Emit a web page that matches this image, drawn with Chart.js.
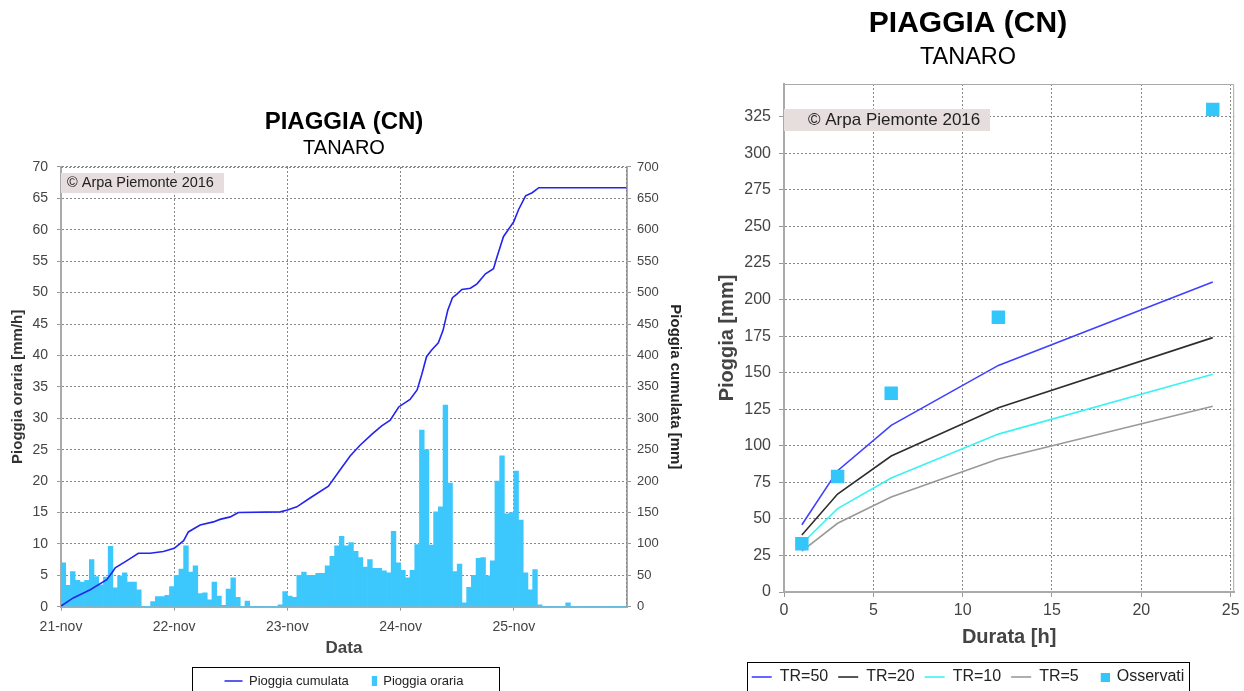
<!DOCTYPE html>
<html>
<head>
<meta charset="utf-8">
<script src="https://cdn.jsdelivr.net/npm/chart.js@4.4.1/dist/chart.umd.min.js"></script>
<style>
  body { margin: 0; background: #fff; width: 1244px; height: 691px; overflow: hidden; position: relative; }
  #left { position: absolute; left: 0; top: 0; }
  #right { position: absolute; left: 700px; top: 0; }
</style>
</head>
<body>
<canvas id="left" width="688" height="691"></canvas>
<canvas id="right" width="544" height="691"></canvas>
<script>
// left chart: hourly rain (mm/h) from 21-nov 00:00, one value per hour
const dayTicks = [0, 24, 48, 72, 96];
const dayLabels = ['21-nov', '22-nov', '23-nov', '24-nov', '25-nov'];
const hourlyRain = [
  7.0, 3.4, 5.6, 4.2, 3.9, 4.2, 7.5, 4.8, 3.5, 4.7, 9.6, 3.0, 4.9, 5.4, 3.9, 3.9, 2.7, 0, 0, 0.8, 1.6, 1.6, 1.8, 3.2,
  5.0, 6.0, 9.7, 5.5, 6.5, 2.1, 2.2, 1.1, 3.9, 1.7, 0.2, 2.8, 4.6, 1.5, 0, 0.9, 0, 0, 0, 0, 0, 0, 0.3, 2.4,
  1.7, 1.5, 5.0, 5.5, 5.0, 5.0, 5.3, 5.3, 6.5, 8.0, 9.7, 11.2, 9.7, 10.2, 8.8, 7.8, 6.3, 7.5, 6.1, 6.1, 5.7, 5.4, 12.0, 7.0,
  5.8, 4.6, 5.8, 9.9, 28.1, 25.0, 9.8, 15.1, 15.9, 32.1, 19.7, 5.6, 6.8, 0.6, 3.1, 5.0, 7.7, 7.8, 4.9, 7.3, 20.0, 24.0, 14.8, 15.0,
  21.6, 13.8, 5.4, 2.7, 5.9, 0.3, 0, 0, 0, 0, 0, 0.6, 0, 0, 0, 0, 0, 0, 0, 0, 0, 0, 0, 0
];
// cumulated rain (mm), hours since 21-nov 00:00
const cumHours = [0, 2.6, 6.2, 9.7, 10.8, 11.5, 13.9, 16.4, 18.9, 21.7, 24, 26, 27, 29.5, 32.3, 33.7, 35.9, 37.6,
  46.5, 48, 50, 52.8, 56.7, 59, 61.3, 63.4, 66, 68, 69.8, 71.6, 74, 75.5, 76.5, 77.5, 78.5, 80, 81, 82, 83, 84, 85,
  86.8, 88.2, 90, 91.7, 92.4, 93.8, 96, 97, 98.5, 99.9, 101.3, 120];
const cumRain = [1, 14, 27, 43, 54, 62, 73, 85, 85, 88, 93, 105, 119, 130, 135, 139, 143, 150,
  151, 154, 159, 173, 192, 216, 240, 257, 275, 288, 297, 318, 330, 345, 370, 398, 408, 420, 440, 472, 492, 498, 505,
  507, 514, 530, 538, 556, 589, 613, 632, 654, 659, 667, 667];

// right chart: rain (mm) vs duration (h)
const durations = [1, 3, 6, 12, 24];
const tr50 = [46, 83, 114, 155, 212];
const tr20 = [39, 67, 93, 126, 174];
const tr10 = [33, 57, 78, 108, 149];
const tr5 = [28, 47, 65, 91, 127];
const observed = [33, 79, 136, 188, 330];

const family = "'Liberation Sans', Arial, sans-serif";
Chart.defaults.font.family = family;
Chart.defaults.color = '#444';
Chart.defaults.animation = false;

function iconCanvas(w, h, x0, color) {
  const c = document.createElement('canvas');
  c.width = w; c.height = h;
  const g = c.getContext('2d');
  g.fillStyle = color;
  g.fillRect(x0, 0, w - x0, h);
  return c;
}
const barColor = '#3cc8fc';
const barIcon = iconCanvas(18, 10, 13, barColor);
const squareIcon = iconCanvas(22, 9, 13, '#33c6fb');

// copyright box, plot frame and legend frame
const extras = {
  id: 'extras',
  beforeDatasetsDraw(chart, args, o) {
    const { ctx, chartArea: a } = chart;
    ctx.save();
    ctx.fillStyle = '#e6dddd';
    ctx.fillRect(a.left, o.noteTop, o.noteWidth, o.noteHeight);
    ctx.fillStyle = '#222';
    ctx.font = o.noteSize + 'px ' + family;
    ctx.textBaseline = 'middle';
    ctx.fillText('\u00A9 Arpa Piemonte 2016', a.left + o.noteIndent, o.noteTop + o.noteHeight / 2);
    ctx.restore();
  },
  afterDraw(chart, args, o) {
    const { ctx, chartArea: a, legend } = chart;
    ctx.save();
    ctx.strokeStyle = o.frameColor;
    ctx.lineWidth = 1;
    ctx.setLineDash(o.frameDash);
    ctx.beginPath();
    ctx.moveTo(a.left, a.top + 0.5);
    ctx.lineTo(a.right - 0.5, a.top + 0.5);
    ctx.lineTo(a.right - 0.5, a.bottom);
    ctx.stroke();
    const boxes = legend.legendHitBoxes;
    if (boxes && boxes.length) {
      const first = boxes[0], last = boxes[boxes.length - 1];
      const x0 = Math.round(first.left - o.legendPadLeft);
      const x1 = Math.round(last.left + last.width + o.legendPadRight);
      ctx.setLineDash([]);
      ctx.strokeStyle = '#000';
      ctx.strokeRect(x0 + 0.5, o.legendTop + 0.5, x1 - x0, chart.height - o.legendTop + 4);
    }
    ctx.restore();
  }
};

new Chart(document.getElementById('left'), {
  type: 'bar',
  data: {
    datasets: [
      {
        type: 'line',
        label: 'Pioggia cumulata',
        data: cumHours.map((h, i) => ({ x: h, y: cumRain[i] })),
        yAxisID: 'y1',
        borderColor: '#2424ee',
        borderWidth: 1.6,
        pointRadius: 0,
        pointStyle: 'line',
        pointBorderColor: '#2424ee',
        pointBorderWidth: 1.5,
        tension: 0,
        order: 0
      },
      {
        type: 'bar',
        label: 'Pioggia oraria',
        data: hourlyRain.map((v, i) => ({ x: i + 0.5, y: v })),
        yAxisID: 'y',
        backgroundColor: barColor,
        barPercentage: 1,
        categoryPercentage: 1,
        order: 1
      }
    ]
  },
  options: {
    responsive: false,
    devicePixelRatio: 1,
    layout: { padding: 0 },
    scales: {
      x: {
        type: 'linear',
        min: 0,
        max: 120,
        offset: false,
        afterBuildTicks: axis => { axis.ticks = dayTicks.map(v => ({ value: v })); },
        ticks: {
          callback: (v, i) => dayLabels[i],
          font: { size: 14 }, color: '#444', padding: 8, maxRotation: 0, autoSkip: false
        },
        grid: { color: '#888', tickLength: 4, tickColor: '#999', offset: false },
        border: { color: '#aaa', width: 2, dash: [2, 2] },
        title: { display: true, text: 'Data', font: { size: 17, weight: 'bold' }, color: '#444', padding: { top: 0, bottom: 6.3 } },
        afterFit: s => { s.height = 57.8; }
      },
      y: {
        position: 'left',
        min: 0,
        max: 70,
        ticks: { stepSize: 5, font: { size: 14 }, color: '#444', padding: 9 },
        grid: { color: '#888', tickLength: 4, tickColor: '#999' },
        border: { color: '#aaa', width: 2, dash: [2, 2] },
        title: { display: true, text: 'Pioggia oraria [mm/h]', font: { size: 15, weight: 'bold' }, color: '#333', padding: { top: 9.3, bottom: 0 } },
        afterFit: s => { s.width = 61; }
      },
      y1: {
        position: 'right',
        min: 0,
        max: 700,
        ticks: { stepSize: 50, font: { size: 13 }, color: '#444', padding: 6 },
        grid: { drawOnChartArea: false, tickLength: 4, tickColor: '#999' },
        border: { color: '#aaa', width: 2 },
        title: { display: true, text: 'Pioggia cumulata [mm]', font: { size: 15, weight: 'bold' }, color: '#222', padding: { top: 3.5, bottom: 0 } },
        afterFit: s => { s.width = 61; }
      }
    },
    plugins: {
      title: { display: true, text: 'PIAGGIA (CN)', color: '#000', font: { size: 24, weight: 'bold' }, padding: { top: 107.6, bottom: 0 } },
      subtitle: { display: true, text: 'TANARO', color: '#000', font: { size: 20 }, padding: { top: 0.3, bottom: 6.3 } },
      legend: {
        position: 'bottom',
        maxHeight: 26.5,
        labels: {
          usePointStyle: true,
          pointStyleWidth: 18,
          boxHeight: 13,
          padding: 10,
          color: '#222',
          font: { size: 13 },
          generateLabels: chart => {
            const items = Chart.defaults.plugins.legend.labels.generateLabels(chart);
            items.forEach(it => { if (it.text === 'Pioggia oraria') it.pointStyle = barIcon; });
            return items;
          }
        }
      },
      tooltip: { enabled: false },
      extras: {
        noteTop: 173, noteHeight: 20, noteWidth: 163, noteIndent: 6, noteSize: 14.5,
        frameColor: '#888', frameDash: [2, 2],
        legendTop: 667, legendPadLeft: 33, legendPadRight: 36
      }
    }
  },
  plugins: [extras]
});

const lineSet = (label, values, color) => ({
  label,
  data: durations.map((d, i) => ({ x: d, y: values[i] })),
  borderColor: color,
  borderWidth: 1.6,
  pointRadius: 0,
  pointStyle: 'line',
  pointBorderColor: color,
  pointBorderWidth: 1.6,
  tension: 0,
  order: 1
});

new Chart(document.getElementById('right'), {
  type: 'line',
  data: {
    datasets: [
      lineSet('TR=50', tr50, '#4040ff'),
      lineSet('TR=20', tr20, '#2e2e2e'),
      lineSet('TR=10', tr10, '#3cf2f2'),
      lineSet('TR=5', tr5, '#9a9a9a'),
      {
        label: 'Osservati',
        data: durations.map((d, i) => ({ x: d, y: observed[i] })),
        showLine: false,
        pointStyle: 'rect',
        pointRadius: 9.5,
        pointBackgroundColor: '#33c6fb',
        pointBorderColor: '#33c6fb',
        pointBorderWidth: 0,
        order: 0
      }
    ]
  },
  options: {
    responsive: false,
    devicePixelRatio: 1,
    layout: { padding: { left: 0, right: 8, top: 0, bottom: 0 } },
    scales: {
      x: {
        type: 'linear',
        min: 0,
        max: 25.2,
        ticks: { stepSize: 5, includeBounds: false, font: { size: 16 }, color: '#444', padding: 4.4, maxRotation: 0 },
        grid: { color: '#888', tickLength: 5, tickColor: '#999' },
        border: { color: '#aaa', width: 2, dash: [2, 2] },
        title: { display: true, text: 'Durata [h]', font: { size: 20, weight: 'bold' }, color: '#444', padding: { top: 0, bottom: 10 } },
        afterFit: s => { s.height = 67; }
      },
      y: {
        min: 0,
        max: 347.5,
        ticks: { stepSize: 25, includeBounds: false, font: { size: 16 }, color: '#444', padding: 8 },
        grid: { color: '#888', tickLength: 5, tickColor: '#999' },
        border: { color: '#aaa', width: 2, dash: [2, 2] },
        title: { display: true, text: 'Pioggia [mm]', font: { size: 20, weight: 'bold' }, color: '#444', padding: { top: 15, bottom: 0 } },
        afterFit: s => { s.width = 84; }
      }
    },
    plugins: {
      title: { display: true, text: 'PIAGGIA (CN)', color: '#000', font: { size: 30, weight: 'bold' }, padding: { top: 6, bottom: 0 } },
      subtitle: { display: true, text: 'TANARO', color: '#000', font: { size: 23.5 }, padding: { top: 1.4, bottom: 12.4 } },
      legend: {
        position: 'bottom',
        maxHeight: 32,
        labels: {
          usePointStyle: true,
          pointStyleWidth: 20,
          boxHeight: 16,
          padding: 10,
          color: '#222',
          font: { size: 16 },
          sort: (a, b) => a.datasetIndex - b.datasetIndex,
          generateLabels: chart => {
            const items = Chart.defaults.plugins.legend.labels.generateLabels(chart);
            items.forEach(it => { if (it.text === 'Osservati') it.pointStyle = squareIcon; });
            return items;
          }
        }
      },
      tooltip: { enabled: false },
      extras: {
        noteTop: 109, noteHeight: 22, noteWidth: 206, noteIndent: 24, noteSize: 17,
        frameColor: '#aaa', frameDash: [],
        legendTop: 662, legendPadLeft: 5, legendPadRight: 5
      }
    }
  },
  plugins: [extras]
});
</script>
</body>
</html>
